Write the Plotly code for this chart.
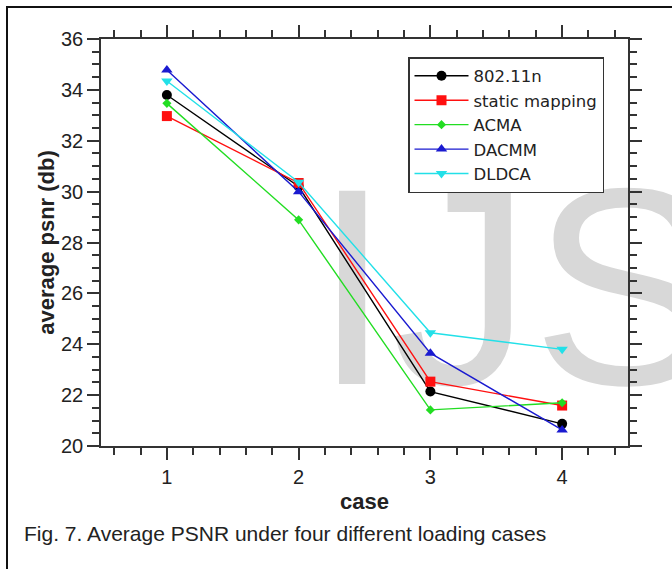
import plotly.graph_objects as go

# ---- data ----
cases = [1, 2, 3, 4]
series_names = ["802.11n", "static mapping", "ACMA", "DACMM", "DLDCA"]
psnr_80211n = [33.80, 30.20, 22.14, 20.87]
psnr_static = [32.97, 30.34, 22.53, 21.59]
psnr_acma = [33.47, 28.89, 21.42, 21.70]
psnr_dacmm = [34.78, 30.00, 23.65, 20.63]
psnr_dldca = [34.35, 30.37, 24.45, 23.80]
x_ticks = [1, 2, 3, 4]
y_ticks = [20, 22, 24, 26, 28, 30, 32, 34, 36]

series_values = [psnr_80211n, psnr_static, psnr_acma, psnr_dacmm, psnr_dldca]
colors = ["#000000", "#ff1010", "#22dd22", "#1a1ad0", "#22e0e8"]
symbols = ["circle", "square", "diamond", "triangle-up", "triangle-down"]
sizes = [10, 10, 7, 10, 10]

W, H = 672, 569
ML, MR, MT, MB = 101, 44, 39, 123
PW, PH = W - ML - MR, H - MT - MB

fig = go.Figure()

# faint background watermark (drawn first so data lines sit on top)
fig.add_trace(go.Scatter(
    x=[2.11], y=[25.2], mode="text", text=["IJSER"],
    textposition="middle right", cliponaxis=False, showlegend=False,
    hoverinfo="skip",
    textfont=dict(family="Liberation Sans, Arial", size=281, color="#d8d8d8"),
))

for name, vals, c, s, sz in zip(series_names, series_values, colors, symbols, sizes):
    fig.add_trace(go.Scatter(
        x=cases, y=vals, name=name, mode="lines+markers",
        line=dict(color=c, width=1.4),
        marker=dict(symbol=s, size=sz, color=c),
    ))

def px_x(p):
    return (p - ML) / PW

def px_y(p):
    return (H - MB - p) / PH

axis_common = dict(
    showgrid=False, zeroline=False, showline=True, linecolor="#333333",
    linewidth=1.5, mirror="ticks", ticks="outside", tickcolor="#333333",
    tickwidth=1.5, ticklen=12,
    tickfont=dict(family="Liberation Sans, Arial", size=20, color="#222222"),
)

fig.update_layout(
    width=W, height=H,
    margin=dict(l=ML, r=MR, t=MT, b=MB, autoexpand=False),
    paper_bgcolor="white", plot_bgcolor="white",
    xaxis=dict(
        range=[0.5, 4.5], tickmode="array", tickvals=x_ticks,
        minor=dict(dtick=0.2, tick0=0, ticks="outside", ticklen=7,
                   tickwidth=1.5, tickcolor="#333333"),
        title=dict(text="<b>case</b>", standoff=7,
                   font=dict(family="Liberation Sans, Arial", size=22, color="#222222")),
        **axis_common,
    ),
    yaxis=dict(
        range=[20, 36], tickmode="array", tickvals=y_ticks,
        minor=dict(dtick=0.5, tick0=0, ticks="outside", ticklen=7,
                   tickwidth=1.5, tickcolor="#333333"),
        title=dict(text="<b>average psnr (db)</b>", standoff=0,
                   font=dict(family="Liberation Sans, Arial", size=22, color="#222222")),
        **axis_common,
    ),
    legend=dict(
        x=px_x(408), y=px_y(57), xanchor="left", yanchor="top",
        bordercolor="#333333", borderwidth=1.5, bgcolor="white",
        font=dict(family="DejaVu Sans", size=16.5, color="#222222"),
        itemwidth=54,
    ),
    showlegend=True,
    shapes=[dict(
        type="rect", xref="paper", yref="paper",
        x0=px_x(7), x1=px_x(700), y0=px_y(620), y1=px_y(7),
        line=dict(color="#111111", width=2), fillcolor="rgba(0,0,0,0)",
        layer="above",
    )],
    annotations=[dict(
        text="Fig. 7. Average PSNR under four different loading cases",
        xref="paper", yref="paper", x=px_x(22), y=px_y(533),
        xanchor="left", yanchor="middle", showarrow=False,
        font=dict(family="Liberation Sans, Arial", size=21, color="#222222"),
    )],
)

fig.write_html(
    "out.html",
    config={"displayModeBar": False},
    post_script="document.body.style.margin='0px';document.body.style.overflow='hidden';",
)
